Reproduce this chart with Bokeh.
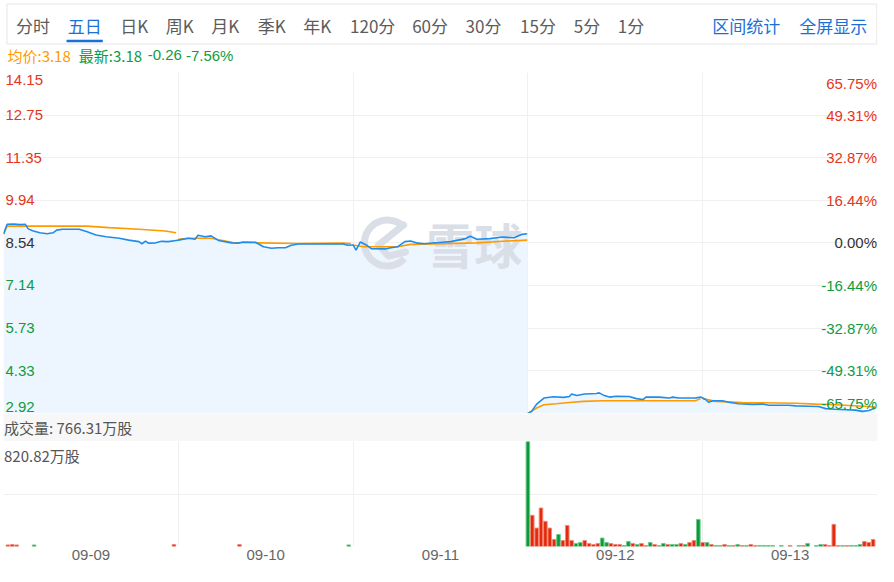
import numpy as np
from bokeh.plotting import figure
from bokeh.layouts import column
from bokeh.models import Range1d, FixedTicker
from bokeh.core.properties import value
from bokeh.embed import file_html
from bokeh.resources import INLINE

# ---------------- data ----------------
day_labels = ["09-09", "09-10", "09-11", "09-12", "09-13"]
tab_labels = ["分时", "五日", "日K", "周K", "月K", "季K", "年K", "120分", "60分", "30分", "15分", "5分", "1分"]
active_tab = "五日"
action_labels = ["区间统计", "全屏显示"]

prev_close = 8.54
price_ticks = [14.15, 12.75, 11.35, 9.94, 8.54, 7.14, 5.73, 4.33, 2.92]
pct_ticks = ["65.75%", "49.31%", "32.87%", "16.44%", "0.00%", "-16.44%", "-32.87%", "-49.31%", "-65.75%"]

avg_now = 3.18
last_now = 3.18
chg_now = -0.26
chg_pct_now = -7.56
vol_now = 766.31
vol_max = 820.82

# minute of session (0..240) and price, per day
day1_t = [0, 5, 14, 23, 30, 34, 41, 50, 60, 68, 73, 81, 104, 114, 127, 141, 159, 172, 186, 190, 195, 199, 209, 217, 226, 237]
day1_price = [8.83, 9.15, 9.16, 9.14, 9.15, 9.00, 8.93, 8.87, 8.84, 8.87, 8.96, 8.99, 8.99, 8.91, 8.80, 8.74, 8.69, 8.63, 8.58, 8.51, 8.60, 8.53, 8.54, 8.59, 8.58, 8.62]
day2_t = [0, 14, 23, 27, 37, 45, 55, 73, 82, 89, 106, 117, 128, 137, 147, 155, 165, 192, 226, 233, 239]
day2_price = [8.63, 8.69, 8.66, 8.79, 8.74, 8.77, 8.62, 8.54, 8.53, 8.57, 8.56, 8.41, 8.36, 8.38, 8.38, 8.46, 8.50, 8.50, 8.50, 8.46, 8.47]
day3_t = [0, 4, 10, 18, 25, 44, 52, 61, 71, 79, 89, 98, 116, 134, 153, 161, 170, 188, 205, 221, 232, 239]
day3_price = [8.47, 8.30, 8.57, 8.47, 8.35, 8.34, 8.38, 8.41, 8.58, 8.60, 8.53, 8.51, 8.55, 8.58, 8.67, 8.76, 8.66, 8.68, 8.73, 8.71, 8.82, 8.84]
day4_t = [0, 5, 12, 22, 35, 49, 57, 60, 67, 78, 94, 98, 105, 112, 121, 139, 149, 158, 162, 180, 194, 199, 207, 230, 237]
day4_price = [2.92, 2.99, 3.23, 3.43, 3.47, 3.45, 3.48, 3.56, 3.51, 3.56, 3.58, 3.60, 3.51, 3.46, 3.49, 3.48, 3.41, 3.38, 3.46, 3.46, 3.43, 3.46, 3.43, 3.43, 3.46]
day5_t = [0, 4, 8, 14, 27, 36, 49, 69, 82, 91, 118, 128, 145, 159, 169, 182, 210, 219, 228, 237]
day5_price = [3.43, 3.38, 3.29, 3.34, 3.34, 3.29, 3.24, 3.22, 3.23, 3.19, 3.19, 3.17, 3.16, 3.15, 3.08, 3.06, 3.03, 2.99, 3.02, 3.10]

# average price line, per day
day1_avg_t = [0, 5, 41, 114, 145, 186, 222, 237]
day1_avg = [8.83, 9.09, 9.09, 9.09, 9.04, 8.99, 8.93, 8.87]
day2_avg_t = [0, 14, 45, 75, 110, 165, 226, 237]
day2_avg = [8.66, 8.69, 8.69, 8.55, 8.54, 8.52, 8.53, 8.52]
day3_avg_t = [0, 14, 61, 79, 170, 211, 239]
day3_avg = [8.47, 8.41, 8.41, 8.49, 8.54, 8.60, 8.63]
day4_avg_t = [0, 12, 22, 39, 57, 76, 104, 230, 237]
day4_avg = [2.92, 3.10, 3.21, 3.24, 3.28, 3.32, 3.34, 3.34, 3.41]
day5_avg_t = [0, 18, 55, 128, 155, 182, 228, 237]
day5_avg = [3.41, 3.32, 3.28, 3.26, 3.23, 3.21, 3.15, 3.13]

# volume (万股), 40 bars per day; direction +1 up (red) / -1 down (green)
day1_vol = [0, 12, 15, 12, 0, 0, 0, 12, 0, 0, 0, 0, 0, 0, 0, 0, 0, 0, 0, 0,
            0, 0, 0, 0, 0, 0, 0, 0, 0, 0, 0, 0, 0, 0, 0, 0, 0, 0, 0, 15]
day1_dir = [0, 1, 1, 1, 0, 0, 0, -1, 0, 0, 0, 0, 0, 0, 0, 0, 0, 0, 0, 0,
            0, 0, 0, 0, 0, 0, 0, 0, 0, 0, 0, 0, 0, 0, 0, 0, 0, 0, 0, 1]
day2_vol = [0, 0, 0, 0, 0, 0, 0, 0, 0, 0, 0, 0, 0, 0, 15, 0, 0, 0, 0, 0,
            0, 0, 0, 0, 0, 0, 0, 0, 0, 0, 0, 0, 0, 0, 0, 0, 0, 0, 0, 12]
day2_dir = [0, 0, 0, 0, 0, 0, 0, 0, 0, 0, 0, 0, 0, 0, 1, 0, 0, 0, 0, 0,
            0, 0, 0, 0, 0, 0, 0, 0, 0, 0, 0, 0, 0, 0, 0, 0, 0, 0, 0, -1]
day3_vol = [0] * 40
day3_dir = [0] * 40
day4_vol = [820.82, 244, 144, 301, 197, 144, 55, 94, 47, 165, 47, 24, 31, 47, 24, 16, 24, 66, 31, 24,
            16, 16, 8, 39, 24, 16, 24, 8, 31, 16, 8, 24, 16, 16, 16, 24, 16, 31, 47, 212]
day4_dir = [-1, 1, 1, 1, 1, 1, 1, -1, 1, 1, 1, -1, -1, 1, 1, 1, 1, -1, -1, 1,
            1, 1, -1, -1, 1, -1, 1, 1, -1, 1, -1, -1, 1, -1, -1, 1, -1, 1, 1, -1]
day5_vol = [31, 31, 16, 8, 8, 16, 8, 8, 16, 8, 8, 16, 8, 8, 8, 8, 8, 0, 8, 0,
            8, 0, 8, 8, 24, 0, 8, 16, 16, 8, 173, 8, 8, 8, 8, 8, 16, 39, 31, 55]
day5_dir = [1, -1, 1, -1, -1, 1, -1, 1, -1, 1, -1, 1, 1, -1, -1, -1, -1, 0, -1, 0,
            1, 0, -1, 1, -1, 0, -1, -1, 1, 1, 1, 1, -1, 1, -1, -1, -1, 1, 1, 1]

# ---------------- layout / style ----------------
SESSION = 240
BARS_PER_DAY = 40
W = 878
PAD_L, PAD_R = 3, 1
HDR_H, PRICE_H, BAND_H, VOL_H, AXIS_H = 72, 341, 28, 105, 20
HDR_SPAN = 883          # header drawn in a 883-px wide design grid
X_END = SESSION * 5

RED = "#e3361c"
GREEN = "#0f9c41"
DARK = "#333333"
LABEL_GRAY = "#555555"
GRID = "#f0f0f0"
BLUE_LINE = "#1f8ced"
AVG_LINE = "#ff9a00"
FILL = "#edf5fe"
TAB_GRAY = "#5c5c5c"
TAB_BLUE = "#1b6fd6"
WATERMARK = "#d9dee7"
NUM_FONT = value("Liberation Sans")
CJK_FONT = value("Noto Sans CJK SC")

price_days_t = [day1_t, day2_t, day3_t, day4_t, day5_t]
price_days_v = [day1_price, day2_price, day3_price, day4_price, day5_price]
avg_days_t = [day1_avg_t, day2_avg_t, day3_avg_t, day4_avg_t, day5_avg_t]
avg_days_v = [day1_avg, day2_avg, day3_avg, day4_avg, day5_avg]
vol_days = [day1_vol, day2_vol, day3_vol, day4_vol, day5_vol]
dir_days = [day1_dir, day2_dir, day3_dir, day4_dir, day5_dir]


def fig(h, xr, yr, pad=True):
    f = figure(width=W, height=h, x_range=xr, y_range=yr, toolbar_location=None,
               output_backend="svg", min_border=0)
    if pad:
        f.min_border_left = PAD_L
        f.min_border_right = PAD_R
    f.outline_line_color = None
    f.background_fill_color = "white"
    f.border_fill_color = "white"
    return f


# ---------- header (tabs + quote line) ----------
hdr = fig(HDR_H, Range1d(0, HDR_SPAN), Range1d(HDR_H, 0), pad=False)
hdr.axis.visible = False
hdr.grid.visible = False
hdr.quad(left=[3.5], right=[882.3], top=[3.5], bottom=[43.5], fill_color="white",
         line_color="#e6e6e6", line_width=1)
tab_x = [29.7, 82, 132, 178, 224, 271, 317, 373, 431, 485, 540, 589.5, 634]
tab_colors = [TAB_BLUE if t == active_tab else TAB_GRAY for t in tab_labels]
hdr.text(x=tab_x, y=[24.5] * len(tab_labels), text=tab_labels, text_color=tab_colors,
         text_font=CJK_FONT, text_font_size="17px", text_align="center", text_baseline="middle")
ai = tab_labels.index(active_tab)
hdr.quad(left=[tab_x[ai] - 18.3], right=[tab_x[ai] + 18.3], top=[39.3], bottom=[41.8], fill_color=TAB_BLUE,
         line_color=None)
hdr.text(x=[750.3, 838.3], y=[24.5, 24.5], text=action_labels, text_color=TAB_BLUE,
         text_font=CJK_FONT, text_font_size="17px", text_align="center", text_baseline="middle")
quote_y = 54.5
hdr.text(x=[4], y=[quote_y], text=[f"均价:{avg_now:.2f}"], text_color=AVG_LINE,
         text_font=CJK_FONT, text_font_size="15px", text_baseline="middle")
hdr.text(x=[76], y=[quote_y], text=[f"最新:{last_now:.2f}"], text_color=GREEN,
         text_font=CJK_FONT, text_font_size="15px", text_baseline="middle")
hdr.text(x=[145.7, 184.3], y=[quote_y, quote_y], text=[f"{chg_now:.2f}", f"{chg_pct_now:.2f}%"],
         text_color=GREEN, text_font=NUM_FONT, text_font_size="15px", text_baseline="middle")

# ---------- price panel ----------
xr = Range1d(0, X_END)
p = fig(PRICE_H, xr, Range1d(price_ticks[-1], price_ticks[0]))
p.axis.visible = False
p.xgrid.ticker = FixedTicker(ticks=[d * SESSION for d in range(6)])
p.ygrid.ticker = FixedTicker(ticks=price_ticks)
p.grid.grid_line_color = GRID
p.grid.grid_line_width = 1

# area under the price line
segments = ([0, 1, 2], [3, 4])
for seg in segments:
    xs = np.concatenate([np.array(price_days_t[d]) + d * SESSION for d in seg])
    ys = np.concatenate([np.array(price_days_v[d]) for d in seg])
    p.varea(x=xs, y1=np.full(len(xs), price_ticks[-1]), y2=ys, fill_color=FILL)

# watermark centred in the panel
frame_w = W - PAD_L - PAD_R
xpp = X_END / frame_w
ypp = (price_ticks[0] - price_ticks[-1]) / PRICE_H
cx = X_END / 2
cy = (price_ticks[0] + price_ticks[-1]) / 2
p.text(x=[cx], y=[cy], text=["雪球"], x_offset=34, text_align="center", text_baseline="middle",
       text_font=CJK_FONT, text_font_size="48px", text_font_style="bold", text_color=WATERMARK)
lx = cx - 53 * xpp
p.arc(x=[lx], y=[cy], radius=23, radius_units="screen", start_angle=0.75, end_angle=-0.75,
      line_color=WATERMARK, line_width=7)
hook = [(16, -18), (-9, 2), (1, 13), (18, 9)]
p.line(x=[lx + dx * xpp for dx, dy in hook], y=[cy - dy * ypp for dx, dy in hook],
       line_color=WATERMARK, line_width=7, line_cap="round", line_join="round")

p.multi_line(xs=[list(np.array(avg_days_t[d]) + d * SESSION) for d in range(5)],
             ys=[list(avg_days_v[d]) for d in range(5)], line_color=AVG_LINE, line_width=1.6)
for seg in segments:
    xs = np.concatenate([np.array(price_days_t[d]) + d * SESSION for d in seg])
    ys = np.concatenate([np.array(price_days_v[d]) for d in seg])
    p.line(xs, ys, line_color=BLUE_LINE, line_width=1.6)


def tick_color(val):
    if abs(val - prev_close) < 1e-9:
        return DARK
    return RED if val > prev_close else GREEN


cols = [tick_color(val) for val in price_ticks]
ptxt = [f"{val:.2f}" for val in price_ticks]
groups = [([0], "top", 2), (list(range(1, 8)), "middle", 0), ([8], "bottom", -2)]
for idx, base, off in groups:
    p.text(x=[0] * len(idx), y=[price_ticks[i] for i in idx], text=[ptxt[i] for i in idx],
           text_color=[cols[i] for i in idx], x_offset=2, y_offset=off, text_baseline=base,
           text_font=NUM_FONT, text_font_size="15px")
    p.text(x=[X_END] * len(idx), y=[price_ticks[i] for i in idx], text=[pct_ticks[i] for i in idx],
           text_color=[cols[i] for i in idx], x_offset=-0.5, y_offset=off, text_baseline=base,
           text_align="right", text_font=NUM_FONT, text_font_size="15px")

# ---------- volume title band ----------
band = fig(BAND_H, Range1d(0, frame_w), Range1d(0, BAND_H))
band.background_fill_color = "#f7f7f7"
band.axis.visible = False
band.grid.visible = False
band.text(x=[0.5], y=[BAND_H / 2], text=[f"成交量: {vol_now:.2f}万股"], text_color=LABEL_GRAY,
          text_font=CJK_FONT, text_font_size="15px", text_baseline="middle")

# ---------- volume panel ----------
v = fig(VOL_H + AXIS_H, xr, Range1d(0, vol_max))
v.min_border_bottom = AXIS_H
v.yaxis.visible = False
v.xgrid.ticker = FixedTicker(ticks=[d * SESSION for d in range(6)])
v.ygrid.ticker = FixedTicker(ticks=[0, vol_max / 2, vol_max])
v.grid.grid_line_color = GRID
centers = [d * SESSION + SESSION / 2 for d in range(5)]
v.xaxis.ticker = FixedTicker(ticks=centers)
v.xaxis.major_label_overrides = {c: lab for c, lab in zip(centers, day_labels)}
v.xaxis.axis_line_color = None
v.xaxis.major_tick_line_color = None
v.xaxis.minor_tick_line_color = None
v.xaxis.major_tick_out = 0
v.xaxis.major_tick_in = 0
v.xaxis.major_label_standoff = 3
v.xaxis.major_label_text_font = "Liberation Sans"
v.xaxis.major_label_text_font_size = "15px"
v.xaxis.major_label_text_color = "#666666"

step = SESSION / BARS_PER_DAY
bx, btop, bfill, bline = [], [], [], []
for d in range(5):
    for i, (vol, dr) in enumerate(zip(vol_days[d], dir_days[d])):
        if vol <= 0:
            continue
        bx.append(d * SESSION + i * step)
        btop.append(vol)
        bfill.append("#e42a0a" if dr > 0 else "#0b9a3a")
        bline.append("#f08a7c" if dr > 0 else "#6fca8e")
v.vbar(x=bx, top=btop, bottom=0, width=step * 0.82, fill_color=bfill, line_color=bline, line_width=1)
v.text(x=[0], y=[vol_max], text=[f"{vol_max:.2f}万股"], text_color=LABEL_GRAY, x_offset=0.5, y_offset=3,
       text_baseline="top", text_font=CJK_FONT, text_font_size="15px")

root = column(hdr, p, band, v, spacing=0)
open("out.html", "w").write(file_html(root, INLINE))
